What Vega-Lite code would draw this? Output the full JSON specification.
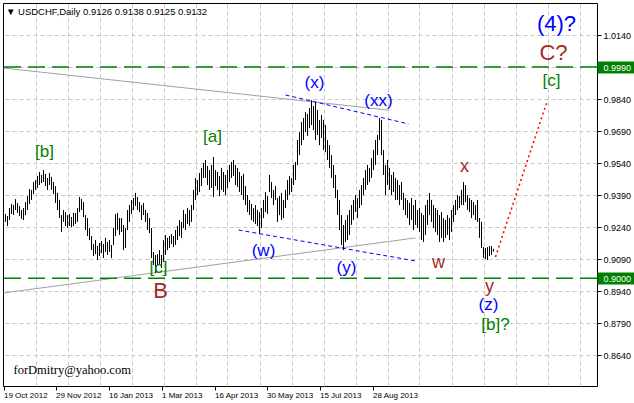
{
"$schema":"https://vega.github.io/schema/vega-lite/v6.json",
"width":594,"height":383,
"autosize":"none",
"padding":{"left":3,"top":3,"right":37,"bottom":17},
"background":"white",
"config":{"view":{"stroke":"black","strokeWidth":1},"text":{"font":"Liberation Sans"}},
"title":{"text":"▼ USDCHF,Daily  0.9126 0.9138 0.9125 0.9132","anchor":"start","frame":"group","orient":"top","offset":-18,"dx":3,"baseline":"middle","fontSize":9.5,"font":"Liberation Sans","fontWeight":"normal","color":"black"},
"resolve":{"axis":{"x":"independent","y":"independent"}},
"datasets":{
"bars":[
{"i":1,"h":0.9301,"l":0.9264},{"i":2,"h":0.9292,"l":0.9245},{"i":3,"h":0.9329,"l":0.9273},{"i":4,"h":0.9348,"l":0.9301},{"i":5,"h":0.9343,"l":0.9296},
{"i":6,"h":0.9371,"l":0.9320},{"i":7,"h":0.9353,"l":0.9306},{"i":8,"h":0.9339,"l":0.9292},{"i":9,"h":0.9320,"l":0.9278},{"i":10,"h":0.9329,"l":0.9273},
{"i":11,"h":0.9357,"l":0.9296},{"i":12,"h":0.9385,"l":0.9320},{"i":13,"h":0.9418,"l":0.9348},{"i":14,"h":0.9414,"l":0.9367},{"i":15,"h":0.9451,"l":0.9395},
{"i":16,"h":0.9460,"l":0.9414},{"i":17,"h":0.9479,"l":0.9423},{"i":18,"h":0.9498,"l":0.9437},{"i":19,"h":0.9484,"l":0.9446},{"i":20,"h":0.9507,"l":0.9451},
{"i":21,"h":0.9489,"l":0.9432},{"i":22,"h":0.9470,"l":0.9414},{"i":23,"h":0.9493,"l":0.9437},{"i":24,"h":0.9475,"l":0.9414},{"i":25,"h":0.9451,"l":0.9395},
{"i":26,"h":0.9432,"l":0.9353},{"i":27,"h":0.9400,"l":0.9320},{"i":28,"h":0.9367,"l":0.9282},{"i":29,"h":0.9296,"l":0.9217},{"i":30,"h":0.9320,"l":0.9264},
{"i":31,"h":0.9310,"l":0.9245},{"i":32,"h":0.9296,"l":0.9235},{"i":33,"h":0.9301,"l":0.9245},{"i":34,"h":0.9287,"l":0.9240},{"i":35,"h":0.9306,"l":0.9245},
{"i":36,"h":0.9306,"l":0.9254},{"i":37,"h":0.9329,"l":0.9264},{"i":38,"h":0.9381,"l":0.9310},{"i":39,"h":0.9371,"l":0.9320},{"i":40,"h":0.9357,"l":0.9287},
{"i":41,"h":0.9296,"l":0.9226},{"i":42,"h":0.9282,"l":0.9198},{"i":43,"h":0.9235,"l":0.9179},{"i":44,"h":0.9198,"l":0.9132},{"i":45,"h":0.9160,"l":0.9104},
{"i":46,"h":0.9179,"l":0.9113},{"i":47,"h":0.9151,"l":0.9085},{"i":48,"h":0.9165,"l":0.9104},{"i":49,"h":0.9174,"l":0.9118},{"i":50,"h":0.9160,"l":0.9095},
{"i":51,"h":0.9189,"l":0.9123},{"i":52,"h":0.9170,"l":0.9109},{"i":53,"h":0.9179,"l":0.9123},{"i":54,"h":0.9156,"l":0.9095},{"i":55,"h":0.9235,"l":0.9156},
{"i":56,"h":0.9301,"l":0.9198},{"i":57,"h":0.9306,"l":0.9226},{"i":58,"h":0.9282,"l":0.9203},{"i":59,"h":0.9282,"l":0.9217},{"i":60,"h":0.9250,"l":0.9132},
{"i":61,"h":0.9235,"l":0.9142},{"i":62,"h":0.9320,"l":0.9226},{"i":63,"h":0.9343,"l":0.9264},{"i":64,"h":0.9367,"l":0.9301},{"i":65,"h":0.9376,"l":0.9320},
{"i":66,"h":0.9400,"l":0.9339},{"i":67,"h":0.9381,"l":0.9320},{"i":68,"h":0.9357,"l":0.9310},{"i":69,"h":0.9343,"l":0.9273},{"i":70,"h":0.9353,"l":0.9296},
{"i":71,"h":0.9320,"l":0.9264},{"i":72,"h":0.9306,"l":0.9226},{"i":73,"h":0.9282,"l":0.9212},{"i":74,"h":0.9235,"l":0.9095},{"i":75,"h":0.9123,"l":0.9062},
{"i":76,"h":0.9109,"l":0.9025},{"i":77,"h":0.9113,"l":0.9062},{"i":78,"h":0.9132,"l":0.9067},{"i":79,"h":0.9109,"l":0.9048},{"i":80,"h":0.9179,"l":0.9076},
{"i":81,"h":0.9203,"l":0.9109},{"i":82,"h":0.9189,"l":0.9132},{"i":83,"h":0.9198,"l":0.9142},{"i":84,"h":0.9207,"l":0.9160},{"i":85,"h":0.9198,"l":0.9146},
{"i":86,"h":0.9226,"l":0.9156},{"i":87,"h":0.9245,"l":0.9179},{"i":88,"h":0.9273,"l":0.9198},{"i":89,"h":0.9264,"l":0.9189},{"i":90,"h":0.9320,"l":0.9235},
{"i":91,"h":0.9301,"l":0.9226},{"i":92,"h":0.9329,"l":0.9254},{"i":93,"h":0.9320,"l":0.9245},{"i":94,"h":0.9343,"l":0.9264},{"i":95,"h":0.9414,"l":0.9320},
{"i":96,"h":0.9470,"l":0.9367},{"i":97,"h":0.9460,"l":0.9390},{"i":98,"h":0.9493,"l":0.9404},{"i":99,"h":0.9517,"l":0.9432},{"i":100,"h":0.9540,"l":0.9470},
{"i":101,"h":0.9554,"l":0.9470},{"i":102,"h":0.9526,"l":0.9437},{"i":103,"h":0.9507,"l":0.9414},{"i":104,"h":0.9531,"l":0.9423},{"i":105,"h":0.9568,"l":0.9381},
{"i":106,"h":0.9507,"l":0.9432},{"i":107,"h":0.9498,"l":0.9414},{"i":108,"h":0.9479,"l":0.9385},{"i":109,"h":0.9517,"l":0.9414},{"i":110,"h":0.9498,"l":0.9404},
{"i":111,"h":0.9484,"l":0.9390},{"i":112,"h":0.9507,"l":0.9423},{"i":113,"h":0.9531,"l":0.9451},{"i":114,"h":0.9545,"l":0.9470},{"i":115,"h":0.9554,"l":0.9479},
{"i":116,"h":0.9531,"l":0.9437},{"i":117,"h":0.9517,"l":0.9428},{"i":118,"h":0.9498,"l":0.9404},{"i":119,"h":0.9479,"l":0.9390},{"i":120,"h":0.9489,"l":0.9367},
{"i":121,"h":0.9432,"l":0.9343},{"i":122,"h":0.9390,"l":0.9310},{"i":123,"h":0.9367,"l":0.9296},{"i":124,"h":0.9348,"l":0.9273},{"i":125,"h":0.9329,"l":0.9264},
{"i":126,"h":0.9343,"l":0.9254},{"i":127,"h":0.9320,"l":0.9245},{"i":128,"h":0.9310,"l":0.9207},{"i":129,"h":0.9329,"l":0.9235},{"i":130,"h":0.9367,"l":0.9282},
{"i":131,"h":0.9404,"l":0.9310},{"i":132,"h":0.9385,"l":0.9301},{"i":133,"h":0.9484,"l":0.9404},{"i":134,"h":0.9451,"l":0.9376},{"i":135,"h":0.9414,"l":0.9343},
{"i":136,"h":0.9432,"l":0.9367},{"i":137,"h":0.9376,"l":0.9264},{"i":138,"h":0.9385,"l":0.9296},{"i":139,"h":0.9400,"l":0.9273},{"i":140,"h":0.9367,"l":0.9282},
{"i":141,"h":0.9414,"l":0.9329},{"i":142,"h":0.9460,"l":0.9367},{"i":143,"h":0.9479,"l":0.9390},{"i":144,"h":0.9470,"l":0.9404},{"i":145,"h":0.9531,"l":0.9437},
{"i":146,"h":0.9545,"l":0.9460},{"i":147,"h":0.9648,"l":0.9531},{"i":148,"h":0.9685,"l":0.9577},{"i":149,"h":0.9732,"l":0.9624},{"i":150,"h":0.9751,"l":0.9648},
{"i":151,"h":0.9779,"l":0.9685},{"i":152,"h":0.9770,"l":0.9667},{"i":153,"h":0.9798,"l":0.9704},{"i":154,"h":0.9835,"l":0.9718},{"i":155,"h":0.9807,"l":0.9695},
{"i":156,"h":0.9826,"l":0.9648},{"i":157,"h":0.9789,"l":0.9671},{"i":158,"h":0.9742,"l":0.9624},{"i":159,"h":0.9765,"l":0.9657},{"i":160,"h":0.9742,"l":0.9601},
{"i":161,"h":0.9718,"l":0.9591},{"i":162,"h":0.9648,"l":0.9554},{"i":163,"h":0.9624,"l":0.9517},{"i":164,"h":0.9577,"l":0.9470},{"i":165,"h":0.9531,"l":0.9423},
{"i":166,"h":0.9484,"l":0.9376},{"i":167,"h":0.9414,"l":0.9296},{"i":168,"h":0.9367,"l":0.9226},{"i":169,"h":0.9296,"l":0.9156},{"i":170,"h":0.9250,"l":0.9132},
{"i":171,"h":0.9273,"l":0.9170},{"i":172,"h":0.9296,"l":0.9179},{"i":173,"h":0.9320,"l":0.9203},{"i":174,"h":0.9343,"l":0.9250},{"i":175,"h":0.9367,"l":0.9273},
{"i":176,"h":0.9390,"l":0.9310},{"i":177,"h":0.9376,"l":0.9282},{"i":178,"h":0.9414,"l":0.9329},{"i":179,"h":0.9437,"l":0.9343},{"i":180,"h":0.9470,"l":0.9390},
{"i":181,"h":0.9507,"l":0.9414},{"i":182,"h":0.9531,"l":0.9437},{"i":183,"h":0.9517,"l":0.9451},{"i":184,"h":0.9563,"l":0.9470},{"i":185,"h":0.9601,"l":0.9507},
{"i":186,"h":0.9648,"l":0.9531},{"i":187,"h":0.9671,"l":0.9577},{"i":188,"h":0.9751,"l":0.9648},{"i":189,"h":0.9742,"l":0.9577},{"i":190,"h":0.9601,"l":0.9484},
{"i":191,"h":0.9531,"l":0.9390},{"i":192,"h":0.9554,"l":0.9437},{"i":193,"h":0.9517,"l":0.9414},{"i":194,"h":0.9484,"l":0.9390},{"i":195,"h":0.9498,"l":0.9404},
{"i":196,"h":0.9470,"l":0.9367},{"i":197,"h":0.9460,"l":0.9367},{"i":198,"h":0.9437,"l":0.9343},{"i":199,"h":0.9451,"l":0.9367},{"i":200,"h":0.9400,"l":0.9320},
{"i":201,"h":0.9376,"l":0.9296},{"i":202,"h":0.9367,"l":0.9282},{"i":203,"h":0.9353,"l":0.9250},{"i":204,"h":0.9376,"l":0.9273},{"i":205,"h":0.9343,"l":0.9226},
{"i":206,"h":0.9367,"l":0.9250},{"i":207,"h":0.9320,"l":0.9235},{"i":208,"h":0.9329,"l":0.9217},{"i":209,"h":0.9306,"l":0.9179},{"i":210,"h":0.9296,"l":0.9170},
{"i":211,"h":0.9343,"l":0.9203},{"i":212,"h":0.9367,"l":0.9250},{"i":213,"h":0.9400,"l":0.9296},{"i":214,"h":0.9367,"l":0.9264},{"i":215,"h":0.9343,"l":0.9235},
{"i":216,"h":0.9329,"l":0.9217},{"i":217,"h":0.9320,"l":0.9203},{"i":218,"h":0.9296,"l":0.9170},{"i":219,"h":0.9310,"l":0.9189},{"i":220,"h":0.9282,"l":0.9170},
{"i":221,"h":0.9273,"l":0.9189},{"i":222,"h":0.9296,"l":0.9203},{"i":223,"h":0.9282,"l":0.9179},{"i":224,"h":0.9320,"l":0.9217},{"i":225,"h":0.9343,"l":0.9264},
{"i":226,"h":0.9367,"l":0.9296},{"i":227,"h":0.9390,"l":0.9320},{"i":228,"h":0.9385,"l":0.9329},{"i":229,"h":0.9414,"l":0.9343},{"i":230,"h":0.9451,"l":0.9343},
{"i":231,"h":0.9437,"l":0.9357},{"i":232,"h":0.9390,"l":0.9320},{"i":233,"h":0.9376,"l":0.9310},{"i":234,"h":0.9367,"l":0.9282},{"i":235,"h":0.9357,"l":0.9296},
{"i":236,"h":0.9343,"l":0.9273},{"i":237,"h":0.9367,"l":0.9264},{"i":238,"h":0.9282,"l":0.9189},{"i":239,"h":0.9264,"l":0.9142},{"i":240,"h":0.9146,"l":0.9095},
{"i":241,"h":0.9142,"l":0.9090},{"i":242,"h":0.9146,"l":0.9085},{"i":243,"h":0.9151,"l":0.9104},{"i":244,"h":0.9151,"l":0.9109},{"i":245,"h":0.9138,"l":0.9125}
],
"levels":[{"level":0.999},{"level":0.9}],
"lines":[
{"line":"resistance","i":0,"p":0.9985},{"line":"resistance","i":192.5,"p":0.9788},
{"line":"support","i":0,"p":0.8931},{"line":"support","i":206,"p":0.9189},
{"line":"upper channel","i":141,"p":0.9859},{"line":"upper channel","i":202.5,"p":0.9723},
{"line":"lower channel","i":117.5,"p":0.9226},{"line":"lower channel","i":206,"p":0.9081},
{"line":"forecast","i":246,"p":0.9100},{"line":"forecast","i":272,"p":0.9835}
],
"labels":[
{"text":"[b]","wave":"Minute","i":20.5,"p":0.9592},
{"text":"[c]","wave":"Minute","i":77.5,"p":0.9048},
{"text":"B","wave":"Minor","i":78.5,"p":0.8940},
{"text":"[a]","wave":"Minute","i":104.5,"p":0.9662},
{"text":"(w)","wave":"Minuette","i":130,"p":0.9128},
{"text":"(x)","wave":"Minuette","i":155.5,"p":0.9915},
{"text":"(y)","wave":"Minuette","i":171.5,"p":0.9048},
{"text":"(xx)","wave":"Minuette","i":187.5,"p":0.9831},
{"text":"w","wave":"Subminuette","i":217.5,"p":0.9071},
{"text":"x","wave":"Subminuette","i":230.5,"p":0.9521},
{"text":"y","wave":"Subminuette","i":243,"p":0.8959},
{"text":"(z)","wave":"Minuette","i":242.5,"p":0.8875},
{"text":"[b]?","wave":"Minute","i":246,"p":0.8781},
{"text":"[c]","wave":"Minute","i":274,"p":0.9924},
{"text":"C?","wave":"Minor","i":275,"p":1.0056},
{"text":"(4)?","wave":"Intermediate","i":276.5,"p":1.0192}
],
"note":[{"text":"forDmitry@yahoo.com","i":5,"p":0.8570}]
},
"layer":[
{"data":{"name":"lines"},"transform":[{"filter":"datum.line=='resistance'||datum.line=='support'"}],
 "mark":{"type":"line","color":"#a0a0a0","strokeWidth":1,"clip":true},
 "encoding":{
  "x":{"field":"i","type":"quantitative","scale":{"domain":[-0.25,296.75],"nice":false,"zero":false},
       "axis":{"orient":"top","values":[16,32,48,64,80,96,112,128,144,160,176,192,208,224,240,256,272,288],"grid":true,"gridColor":"#c8c8c8","gridDash":[4,3],"gridWidth":1,"labels":false,"ticks":false,"domain":false,"title":null}},
  "y":{"field":"p","type":"quantitative","scale":{"domain":[0.8495,1.029],"nice":false,"zero":false},"axis":null},
  "detail":{"field":"line"}}},
{"data":{"name":"bars"},
 "mark":{"type":"rule","color":"black","strokeWidth":1},
 "encoding":{
  "x":{"field":"i","type":"quantitative","scale":{"domain":[-0.25,296.75],"nice":false,"zero":false},
       "axis":{"orient":"bottom","values":[0,26,52.5,79,105.5,131.5,158,184.5],
       "labelExpr":"['19 Oct 2012','29 Nov 2012','16 Jan 2013','1 Mar 2013','16 Apr 2013','30 May 2013','15 Jul 2013','28 Aug 2013'][round(datum.value/26.36)]",
       "labelAlign":"left","labelBaseline":"top","labelPadding":1,"tickSize":4,"tickColor":"black","domain":false,"grid":false,
       "labelFont":"Liberation Sans","labelFontSize":8,"labelColor":"black","title":null,"labelOverlap":false,"labelFlush":false,"labelBound":false}},
  "y":{"field":"h","type":"quantitative","scale":{"domain":[0.8495,1.029],"nice":false,"zero":false},
       "axis":{"orient":"right","values":[0.864,0.879,0.894,0.909,0.924,0.939,0.954,0.969,0.984,0.999,1.014],"format":".4f",
       "grid":true,"gridColor":"#c8c8c8","gridDash":[4,3],"gridWidth":1,"tickSize":4,"tickColor":"black","domain":false,
       "labelPadding":2,"labelFont":"Liberation Sans","labelFontSize":9,"labelColor":"black","labelBaseline":"middle","title":null,"labelOverlap":false,"labelFlush":false,"labelBound":false,"offset":0}},
  "y2":{"field":"l"}}},
{"data":{"name":"levels"},
 "mark":{"type":"rule","color":"#008000","strokeDash":[17,7],"strokeWidth":1.3},
 "encoding":{
  "y":{"field":"level","type":"quantitative","scale":{"domain":[0.8495,1.029],"nice":false,"zero":false},
       "axis":{"orient":"right","values":[0.9,0.999],"format":".4f","grid":false,"domain":false,"ticks":true,"tickColor":"#008000","tickSize":37,"tickWidth":12,
       "labelColor":"white","labelPadding":-31,"labelFont":"Liberation Sans","labelFontSize":9,"labelBaseline":"middle","title":null,"offset":0,"zindex":1,"labelOverlap":false,"labelFlush":false,"labelBound":false}}}},
{"data":{"name":"lines"},"transform":[{"filter":"datum.line=='upper channel'||datum.line=='lower channel'"}],
 "mark":{"type":"line","color":"#0000ff","strokeWidth":1,"strokeDash":[4,3],"clip":true},
 "encoding":{
  "x":{"field":"i","type":"quantitative","scale":{"domain":[-0.25,296.75],"nice":false,"zero":false},"axis":null},
  "y":{"field":"p","type":"quantitative","scale":{"domain":[0.8495,1.029],"nice":false,"zero":false},"axis":null},
  "detail":{"field":"line"}}},
{"data":{"name":"lines"},"transform":[{"filter":"datum.line=='forecast'"}],
 "mark":{"type":"line","color":"#ff0000","strokeWidth":1.5,"strokeDash":[2,3],"clip":true},
 "encoding":{
  "x":{"field":"i","type":"quantitative","scale":{"domain":[-0.25,296.75],"nice":false,"zero":false},"axis":null},
  "y":{"field":"p","type":"quantitative","scale":{"domain":[0.8495,1.029],"nice":false,"zero":false},"axis":null}}},
{"data":{"name":"labels"},"transform":[{"filter":"datum.wave=='Intermediate'"}],
 "mark":{"type":"text","color":"#0000ff","fontSize":22,"font":"Liberation Sans","align":"center","baseline":"middle"},
 "encoding":{
  "x":{"field":"i","type":"quantitative","scale":{"domain":[-0.25,296.75],"nice":false,"zero":false},"axis":null},
  "y":{"field":"p","type":"quantitative","scale":{"domain":[0.8495,1.029],"nice":false,"zero":false},"axis":null},
  "text":{"field":"text"}}},
{"data":{"name":"labels"},"transform":[{"filter":"datum.wave=='Minuette'"}],
 "mark":{"type":"text","color":"#0000ff","fontSize":17,"font":"Liberation Sans","align":"center","baseline":"middle"},
 "encoding":{
  "x":{"field":"i","type":"quantitative","scale":{"domain":[-0.25,296.75],"nice":false,"zero":false},"axis":null},
  "y":{"field":"p","type":"quantitative","scale":{"domain":[0.8495,1.029],"nice":false,"zero":false},"axis":null},
  "text":{"field":"text"}}},
{"data":{"name":"labels"},"transform":[{"filter":"datum.wave=='Minor'"}],
 "mark":{"type":"text","color":"#a52a2a","fontSize":22,"font":"Liberation Sans","align":"center","baseline":"middle"},
 "encoding":{
  "x":{"field":"i","type":"quantitative","scale":{"domain":[-0.25,296.75],"nice":false,"zero":false},"axis":null},
  "y":{"field":"p","type":"quantitative","scale":{"domain":[0.8495,1.029],"nice":false,"zero":false},"axis":null},
  "text":{"field":"text"}}},
{"data":{"name":"labels"},"transform":[{"filter":"datum.wave=='Subminuette'"}],
 "mark":{"type":"text","color":"#a52a2a","fontSize":18,"font":"Liberation Sans","align":"center","baseline":"middle"},
 "encoding":{
  "x":{"field":"i","type":"quantitative","scale":{"domain":[-0.25,296.75],"nice":false,"zero":false},"axis":null},
  "y":{"field":"p","type":"quantitative","scale":{"domain":[0.8495,1.029],"nice":false,"zero":false},"axis":null},
  "text":{"field":"text"}}},
{"data":{"name":"labels"},"transform":[{"filter":"datum.wave=='Minute'"}],
 "mark":{"type":"text","color":"#008000","fontSize":17,"font":"Liberation Sans","align":"center","baseline":"middle"},
 "encoding":{
  "x":{"field":"i","type":"quantitative","scale":{"domain":[-0.25,296.75],"nice":false,"zero":false},"axis":null},
  "y":{"field":"p","type":"quantitative","scale":{"domain":[0.8495,1.029],"nice":false,"zero":false},"axis":null},
  "text":{"field":"text"}}},
{"data":{"name":"note"},
 "mark":{"type":"text","color":"black","fontSize":12.5,"font":"Liberation Serif","align":"left","baseline":"middle"},
 "encoding":{
  "x":{"field":"i","type":"quantitative","scale":{"domain":[-0.25,296.75],"nice":false,"zero":false},"axis":null},
  "y":{"field":"p","type":"quantitative","scale":{"domain":[0.8495,1.029],"nice":false,"zero":false},"axis":null},
  "text":{"field":"text"}}}
]
}
